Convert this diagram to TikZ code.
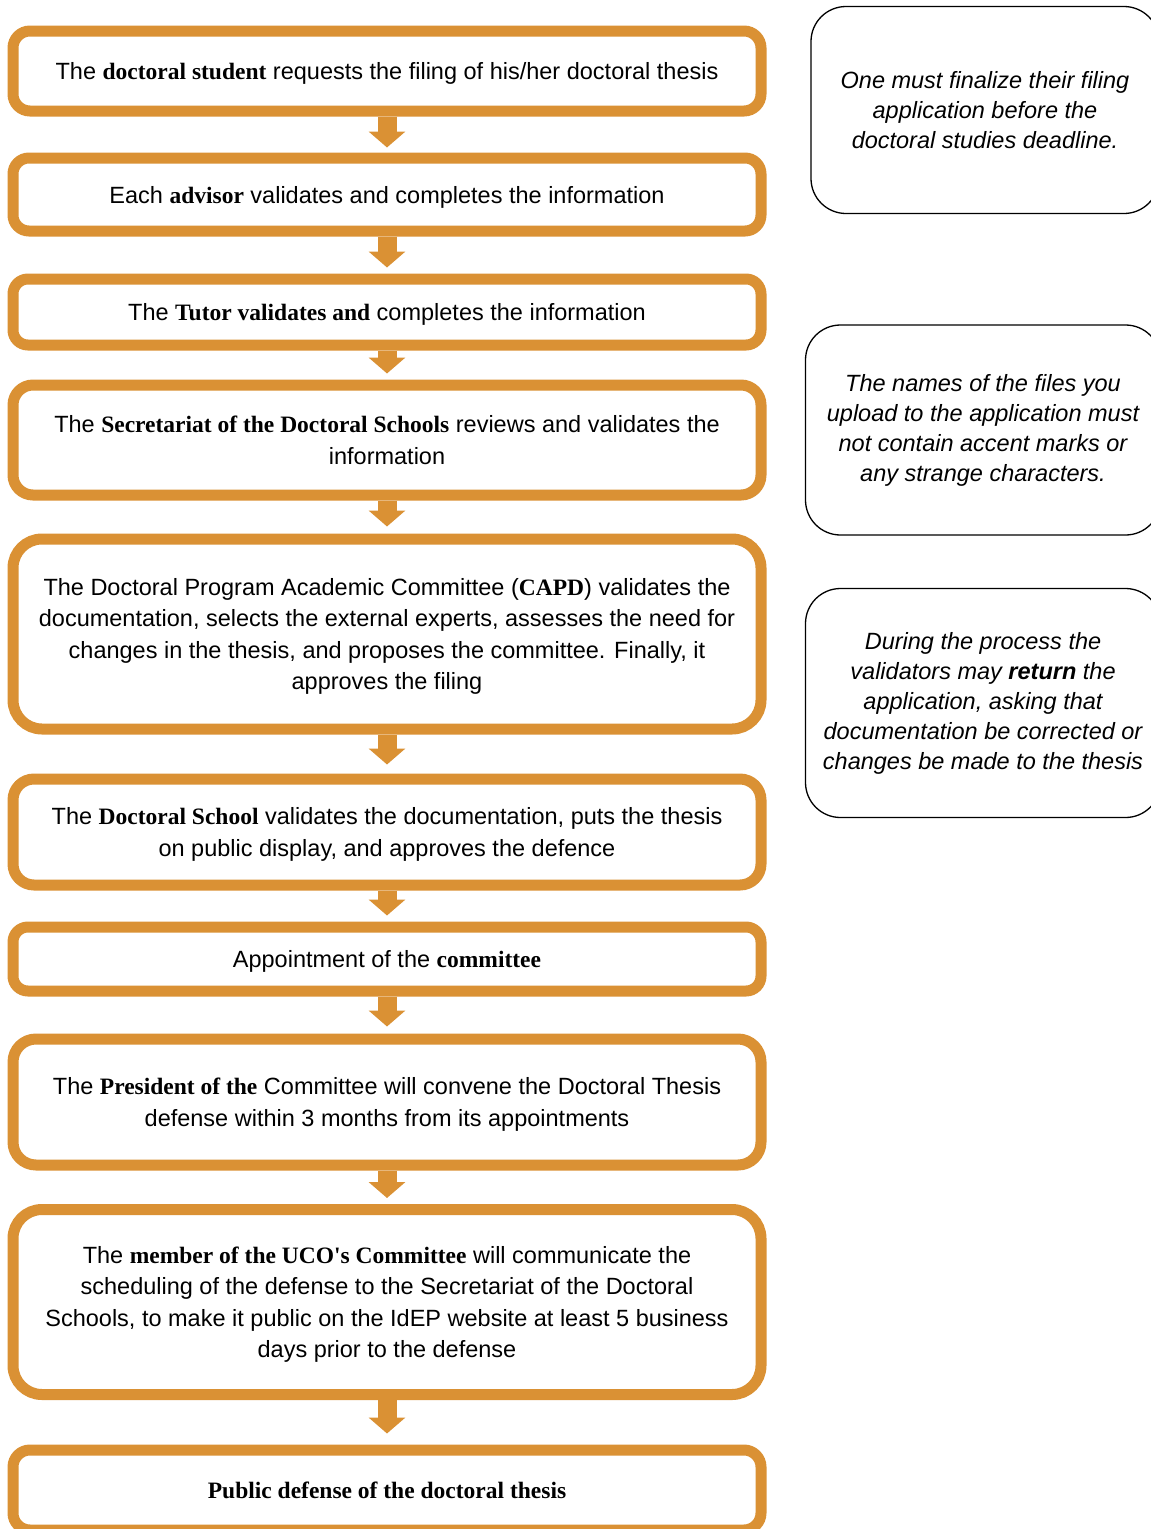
\documentclass[tikz,border=0pt]{standalone}
\usepackage{fontspec}
\setmainfont{Liberation Sans}
\newfontfamily\keyfont{Liberation Serif}
\newcommand{\key}[1]{{\keyfont\bfseries #1}}
\usetikzlibrary{arrows.meta,positioning}
\definecolor{steporange}{RGB}{218,145,52}

\begin{document}
\begin{tikzpicture}[x=1pt, y=-1pt, >={Triangle[length=16pt,width=36pt]},
  font=\fontsize{23.5}{31.5}\selectfont]
\tikzset{stepbox/.style = {draw=steporange, line width=11pt, rectangle,
  minimum width=748pt, align=center, inner sep=0pt, text depth=0pt, fill=white},
  notebox/.style = {draw=black, line width=1.3pt, rectangle, rounded corners=35pt,
  align=center, inner sep=0pt, font=\fontsize{23.5}{30}\selectfont\itshape},
  flow/.style = {->, draw=steporange, line width=19pt}}

  \useasboundingbox (0,0) rectangle (1151,1529);
  \clip (0,0) rectangle (1151,1529);

  % main steps
  \node[stepbox, minimum height=80pt, rounded corners=17pt] at (387,71)
    (student){The \key{doctoral student} requests the filing of his/her doctoral thesis};
  \node[stepbox, minimum height=73pt, rounded corners=16pt, node distance=123.5pt, below of=student]
    (advisor){Each \key{advisor} validates and completes the information};
  \node[stepbox, minimum height=66pt, rounded corners=15pt, node distance=117.5pt, below of=advisor]
    (tutor){The \key{Tutor validates and} completes the information};
  \node[stepbox, minimum height=110pt, rounded corners=20pt, node distance=128pt, below of=tutor]
    (secretariat){The \key{Secretariat of the Doctoral Schools} reviews and validates the\\information};
  \node[stepbox, minimum height=190pt, rounded corners=29pt, node distance=194pt, below of=secretariat]
    (capd){The Doctoral Program Academic Committee (\key{CAPD}) validates the\\
      documentation, selects the external experts, assesses the need for\\
      changes in the thesis, and proposes the committee. Finally, it\\
      approves the filing};
  \node[stepbox, minimum height=106pt, rounded corners=21pt, node distance=198pt, below of=capd]
    (school){The \key{Doctoral School} validates the documentation, puts the thesis\\
      on public display, and approves the defence};
  \node[stepbox, minimum height=64pt, rounded corners=15pt, node distance=127pt, below of=school]
    (appointment){Appointment of the \key{committee}};
  \node[stepbox, minimum height=126pt, rounded corners=23pt, node distance=143pt, below of=appointment]
    (president){The \key{President of the} Committee will convene the Doctoral Thesis\\
      defense within 3 months from its appointments};
  \node[stepbox, minimum height=185pt, rounded corners=29pt, node distance=200pt, below of=president]
    (member){The \key{member of the UCO's Committee} will communicate the\\
      scheduling of the defense to the Secretariat of the Doctoral\\
      Schools, to make it public on the IdEP website at least 5 business\\
      days prior to the defense};
  \node[stepbox, minimum height=80pt, rounded corners=17pt, node distance=188pt, below of=member]
    (defense){\key{Public defense of the doctoral thesis}};

  % block arrows
  \draw[flow] (student.south) -- ([yshift=5pt]advisor.north);
  \draw[flow] (advisor.south) -- ([yshift=6pt]tutor.north);
  \draw[flow] (tutor.south) -- ([yshift=6pt]secretariat.north);
  \draw[flow] (secretariat.south) -- ([yshift=7pt]capd.north);
  \draw[flow] (capd.south) -- ([yshift=9pt]school.north);
  \draw[flow] (school.south) -- ([yshift=6pt]appointment.north);
  \draw[flow] (appointment.south) -- ([yshift=7pt]president.north);
  \draw[flow] (president.south) -- ([yshift=6pt]member.north);
  \draw[flow] (member.south) -- ([yshift=11pt]defense.north);

  % side notes
  \node[notebox, minimum width=348pt, minimum height=207pt] at (985,110)
    (deadline){One must finalize their filing\\application before the\\doctoral studies deadline.};
  \node[notebox, minimum width=355pt, minimum height=210pt] at (983,430)
    (filenames){The names of the files you\\upload to the application must\\not contain accent marks or\\any strange characters.};
  \node[notebox, minimum width=355pt, minimum height=229pt] at (983,703)
    (returns){During the process the\\validators may \textbf{return} the\\application, asking that\\documentation be corrected or\\changes be made to the thesis};

\end{tikzpicture}
\end{document}
